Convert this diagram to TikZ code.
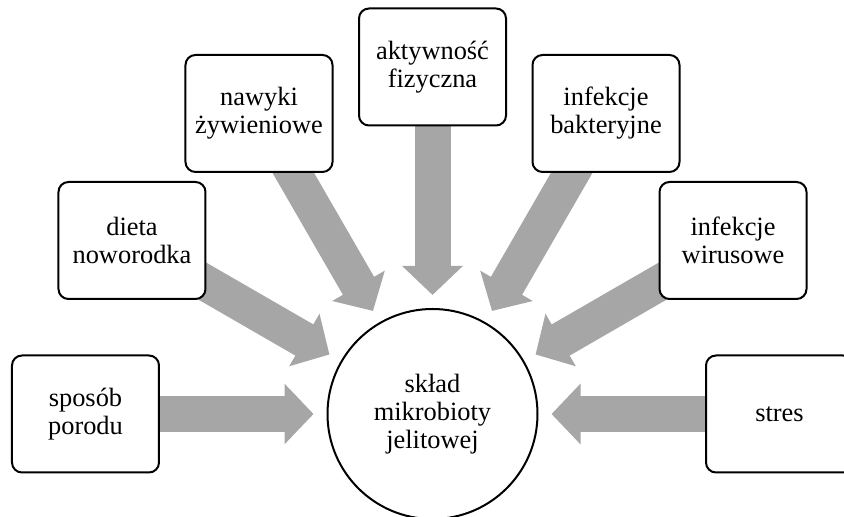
\documentclass[tikz,border=0pt]{standalone}
\usepackage{fontspec}
\setmainfont{Liberation Serif}
\usetikzlibrary{arrows.meta, backgrounds}
\definecolor{flowgray}{RGB}{166, 166, 166}

\tikzset{
  factor/.style={draw, line width=1pt, rounded corners=5pt, fill=white,
    minimum width=73.5pt, minimum height=58.5pt, align=center, inner sep=2pt,
    font=\fontsize{13.2}{14}\selectfont},
  core/.style={draw, circle, line width=1pt, fill=white, minimum size=105pt,
    align=center, inner sep=0pt, font=\fontsize{13.2}{14}\selectfont},
  influence/.style={flowgray, line width=18pt,
    -{Triangle[width=29.5pt, length=14.5pt]}, shorten >=6.5pt}
}

\begin{document}
\begin{tikzpicture}[x=0.5pt, y=0.5pt]
  \useasboundingbox (-432.5,-103) rectangle (411.5,414);

  % centre
  \node[core] (microbiota) at (0,0) {skład\\mikrobioty\\jelitowej};

  % factors on a ring round the centre
  \node[factor] (birth)    at (180:347) {sposób\\porodu};
  \node[factor] (diet)     at (150:347) {dieta\\noworodka};
  \node[factor] (habits)   at (120:347) {nawyki\\żywieniowe};
  \node[factor] (activity) at (90:347)  {aktywność\\fizyczna};
  \node[factor] (bacteria) at (60:347)  {infekcje\\bakteryjne};
  \node[factor] (viruses)  at (30:347)  {infekcje\\wirusowe};
  \node[factor] (stress)   at (0:347)   {stres};

  \begin{scope}[on background layer]
    \foreach \src in {birth, diet, habits, activity, bacteria, viruses, stress}
      \draw[influence] (\src.center) -- (microbiota);
  \end{scope}
\end{tikzpicture}
\end{document}
